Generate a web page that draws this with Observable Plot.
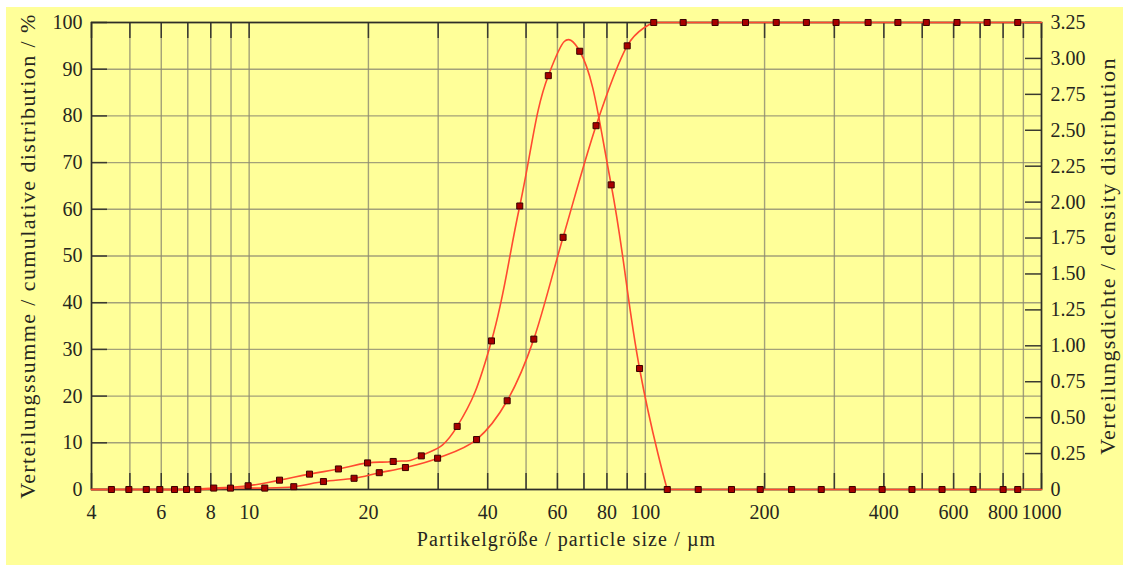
<!DOCTYPE html>
<html><head><meta charset="utf-8">
<script src="https://cdn.jsdelivr.net/npm/d3@7"></script>
<script src="https://cdn.jsdelivr.net/npm/@observablehq/plot@0.6"></script>
<style>
html,body{margin:0;padding:0;background:#fff;}
#wrap{position:relative;width:1123px;height:565px;overflow:hidden;}
#bg{position:absolute;left:6px;top:7px;width:1117px;height:558px;background:#ffff99;}
#chart{position:absolute;left:0;top:0;}
</style></head><body>
<div id="wrap"><div id="bg"></div><div id="chart"></div></div>
<script>
// Cumulative distribution Q3 (%), left axis
const cumSize  = [4.49, 5.5, 6.48, 7.42, 8.97, 10.95, 12.96, 15.4, 18.4, 21.3, 24.8, 29.9, 37.5, 44.8, 52.3, 62.0, 75.1, 90.0, 105, 124.6, 150, 179, 214, 255, 303, 365, 434, 512, 612, 729, 871];
const cumValue = [0, 0, 0, 0, 0.3, 0.3, 0.6, 1.7, 2.4, 3.6, 4.7, 6.7, 10.7, 19.0, 32.2, 54.0, 77.9, 95.0, 100, 100, 100, 100, 100, 100, 100, 100, 100, 100, 100, 100, 100];
// Density distribution q3, right axis
const densSize  = [4.97, 5.95, 6.95, 8.14, 9.94, 11.93, 14.2, 16.8, 19.9, 23.1, 27.2, 33.5, 40.9, 48.2, 56.9, 68.3, 82.0, 96.7, 113.6, 136, 165, 195, 234, 278, 333, 396, 471, 561, 672, 800, 871];
const densValue = [0, 0, 0, 0.010, 0.026, 0.065, 0.107, 0.143, 0.185, 0.195, 0.234, 0.439, 1.034, 1.973, 2.880, 3.050, 2.120, 0.842, 0, 0, 0, 0, 0, 0, 0, 0, 0, 0, 0, 0, 0];

const xDomain = [4, 1000];
const xTicks = [4, 6, 8, 10, 20, 40, 60, 80, 100, 200, 400, 600, 800, 1000];
const xGrid = [4, 5, 6, 7, 8, 9, 10, 20, 30, 40, 50, 60, 70, 80, 90, 100, 200, 300, 400, 500, 600, 700, 800, 900, 1000];
const yTicks = [0, 10, 20, 30, 40, 50, 60, 70, 80, 90, 100];
const y2Ticks = [0, 0.25, 0.5, 0.75, 1, 1.25, 1.5, 1.75, 2, 2.25, 2.5, 2.75, 3, 3.25];
const y2Max = 3.25;
const yMax = 100;

const titleLeft = "Verteilungssumme / cumulative distribution / %";
const titleRight = "Verteilungsdichte / density distribution";
const titleX = "Partikelgröße / particle size / µm";

// build tables
const toLeft = d => d / y2Max * yMax;
const cum = cumSize.map((x, i) => ({x, y: cumValue[i]}));
const dens = densSize.map((x, i) => ({x, y: toLeft(densValue[i])}));

// split a series into a curved part and its final flat plateau
function split(rows) {
  const last = rows[rows.length - 1].y;
  let k = rows.length - 1;
  while (k > 0 && rows[k - 1].y === last) k--;
  const first = rows[0];
  const head = [{x: xDomain[0], y: first.y}, ...rows.slice(0, k + 1)];
  const tail = [...rows.slice(k), {x: xDomain[1], y: last}];
  return [head, tail];
}
const [cumHead, cumTail] = split(cum);
const [densHead, densTail] = split(dens);

const W = 1123, H = 565, mL = 91, mR = 82, mT = 22, mB = 76;
const innerW = W - mL - mR, innerH = H - mT - mB, tickLen = 16;

const red = "#ff4a30";
const gridStyle = {stroke: "#8c8a70", strokeOpacity: 0.8, strokeWidth: 1.4};
const tickStyle = {stroke: "#3a3a30", strokeWidth: 1.5};
const lineStyle = {x: "x", y: "y", stroke: red, strokeWidth: 1.6};
const cumCurve = {...lineStyle, curve: "cardinal", tension: 0};
const densCurve = {...lineStyle, curve: "cardinal", tension: -0.3};
const dotStyle = {x: "x", y: "y", symbol: "square", r: 3.4, fill: "#a80000", stroke: "#3a0000", strokeWidth: 1};

const fmt2 = d => { const v = d * y2Max / yMax; return Math.abs(v) < 1e-9 ? "0" : v.toFixed(2); };

const chart = Plot.plot({
  width: W, height: H,
  marginLeft: mL, marginRight: mR, marginTop: mT, marginBottom: mB,
  style: {background: "transparent", fontFamily: "'Liberation Serif', 'Times New Roman', serif", fontSize: "20px", color: "#262620", overflow: "visible"},
  x: {type: "log", domain: xDomain, label: null, axis: null},
  y: {domain: [0, yMax], label: null, axis: null},
  marks: [
    Plot.gridX(xGrid, gridStyle),
    Plot.gridY(yTicks, gridStyle),
    Plot.tickX(xGrid, {x: d => d, insetTop: innerH - tickLen, ...tickStyle}),
    Plot.tickX(xGrid, {x: d => d, insetBottom: innerH - tickLen, ...tickStyle}),
    Plot.tickY(yTicks, {y: d => d, insetRight: innerW - tickLen, ...tickStyle}),
    Plot.tickY(y2Ticks.map(toLeft), {y: d => d, insetLeft: innerW - tickLen, ...tickStyle}),
    Plot.frame({stroke: "#2e2e26", strokeWidth: 1.6}),
    Plot.line(cumHead, cumCurve),
    Plot.line(cumTail, lineStyle),
    Plot.line(densHead, densCurve),
    Plot.line(densTail, lineStyle),
    Plot.dot(cum, dotStyle),
    Plot.dot(dens, dotStyle),
    Plot.text(xTicks, {x: d => d, text: d => String(d), frameAnchor: "bottom", dy: 23, textAnchor: "middle", lineAnchor: "middle"}),
    Plot.text(yTicks, {y: d => d, text: d => String(d), frameAnchor: "left", dx: -9, textAnchor: "end", lineAnchor: "middle"}),
    Plot.text(y2Ticks.map(toLeft), {y: d => d, text: fmt2, frameAnchor: "right", dx: 9, textAnchor: "start", lineAnchor: "middle"}),
    Plot.text([titleLeft], {text: d => d, frameAnchor: "left", dx: -64, rotate: -90, fontSize: 22, textAnchor: "middle", lineAnchor: "middle"}),
    Plot.text([titleRight], {text: d => d, frameAnchor: "right", dx: 66, rotate: -90, fontSize: 22, textAnchor: "middle", lineAnchor: "middle"}),
    Plot.text([titleX], {text: d => d, frameAnchor: "bottom", dy: 50, fontSize: 20, textAnchor: "middle", lineAnchor: "middle"})
  ]
});
document.getElementById("chart").appendChild(chart);
const svg = d3.select(chart);
svg.selectAll("text").each(function() {
  const t = this.textContent;
  if (t === titleLeft || t === titleRight) d3.select(this).style("letter-spacing", "1.4px");
  if (t === titleX) d3.select(this).style("letter-spacing", "1.1px");
});
</script>
</body></html>
